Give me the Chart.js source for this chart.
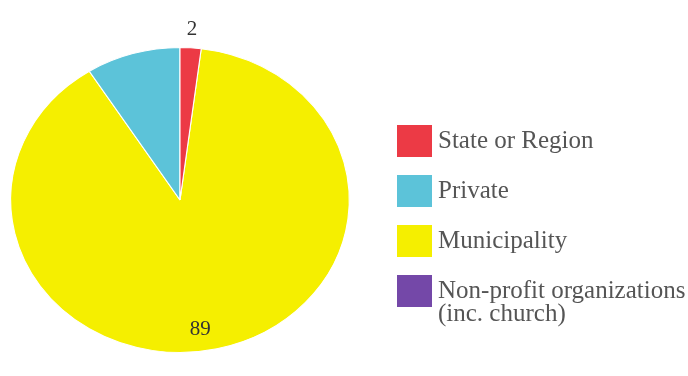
<!DOCTYPE html>
<html>
<head>
<meta charset="utf-8">
<script src="https://cdn.jsdelivr.net/npm/chart.js@4"></script>
<style>
  body { margin: 0; background: #fff; }
</style>
</head>
<body>
<canvas id="pieChart" width="688" height="376"></canvas>
<script>
// legend order
const categories = ['State or Region', 'Private', 'Municipality', 'Non-profit organizations\n(inc. church)'];
const values = [2, 9, 89, 0];
const colors = ['#ec3a45', '#5cc3d9', '#f5ef00', '#7448a8'];
const shownLabels = ['2', '', '89', ''];

// slices go counter-clockwise in the picture, so feed them reversed
const rev = a => a.slice().reverse();

const stretchX = 1.11;

const ellipsePlugin = {
  id: 'ellipse',
  beforeDatasetsDraw(chart) {
    const arc = chart.getDatasetMeta(0).data[0];
    const ctx = chart.ctx;
    ctx.save();
    ctx.translate(arc.x, arc.y);
    ctx.scale(stretchX, 1);
    ctx.translate(-arc.x, -arc.y);
  },
  afterDatasetsDraw(chart) {
    const ctx = chart.ctx;
    ctx.restore();
    const meta = chart.getDatasetMeta(0);
    const labels = rev(shownLabels);
    ctx.save();
    ctx.font = '21px "Liberation Serif", serif';
    ctx.fillStyle = '#333';
    ctx.textAlign = 'center';
    ctx.textBaseline = 'middle';
    meta.data.forEach((a, i) => {
      if (!labels[i]) return;
      const p = a.getProps(['x', 'y', 'startAngle', 'endAngle', 'outerRadius'], true);
      const mid = (p.startAngle + p.endAngle) / 2;
      const outside = labels[i] === '2';
      const f = outside ? 1.12 : 0.87;
      let x = p.x + Math.cos(mid) * p.outerRadius * f * stretchX;
      const y = p.y + Math.sin(mid) * p.outerRadius * f;
      if (!outside) x -= 12;
      ctx.fillText(labels[i], x, y);
    });
    ctx.restore();
  },
  afterDraw(chart) {
    const ctx = chart.ctx;
    ctx.save();
    ctx.font = '25px "Liberation Serif", serif';
    ctx.textBaseline = 'middle';
    categories.forEach((c, i) => {
      const y = 141 + i * 50;
      ctx.fillStyle = colors[i];
      ctx.fillRect(397, y - 16, 35, 32);
      ctx.fillStyle = '#555';
      const lines = c.split('\n');
      lines.forEach((l, j) => {
        ctx.fillText(l, 438, y + j * 23);
      });
    });
    ctx.restore();
  }
};

new Chart(document.getElementById('pieChart'), {
  type: 'pie',
  data: {
    labels: rev(categories),
    datasets: [{
      data: rev(values),
      backgroundColor: rev(colors),
      borderColor: '#fff',
      borderWidth: 1
    }]
  },
  options: {
    responsive: false,
    animation: false,
    rotation: 7.2,
    layout: { padding: { left: 27, right: 355, top: 47, bottom: 23 } },
    plugins: {
      legend: { display: false },
      tooltip: { enabled: false }
    }
  },
  plugins: [ellipsePlugin]
});
</script>
</body>
</html>
